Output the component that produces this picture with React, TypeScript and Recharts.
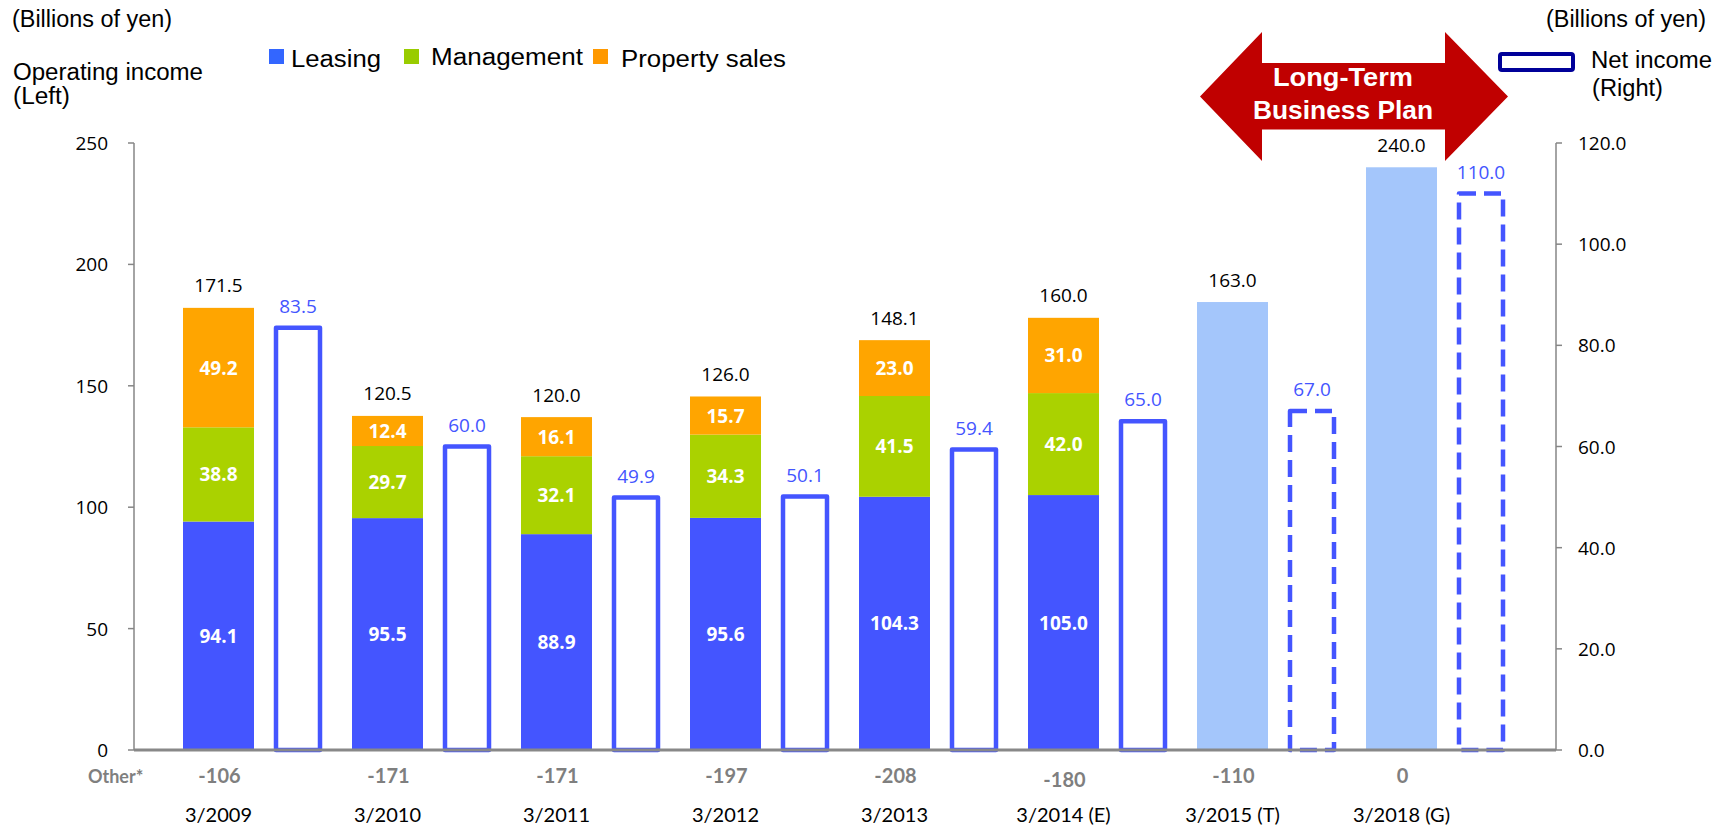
import { BarChart, Bar, XAxis, YAxis } from "recharts";

const categories = [
  "3/2009",
  "3/2010",
  "3/2011",
  "3/2012",
  "3/2013",
  "3/2014 (E)",
  "3/2015 (T)",
  "3/2018 (G)",
];
const leasing = [94.1, 95.5, 88.9, 95.6, 104.3, 105.0, null, null];
const management = [38.8, 29.7, 32.1, 34.3, 41.5, 42.0, null, null];
const propertySales = [49.2, 12.4, 16.1, 15.7, 23.0, 31.0, null, null];
// plan years only show one light bar for operating income
const planBar = [null, null, null, null, null, null, 184.5, 240.0];
const operatingIncome = ["171.5", "120.5", "120.0", "126.0", "148.1", "160.0", "163.0", "240.0"];
const netIncome = [83.5, 60.0, 49.9, 50.1, 59.4, 65.0, 67.0, 110.0];
const other = ["-106", "-171", "-171", "-197", "-208", "-180", "-110", "0"];
const leftTicks = [0, 50, 100, 150, 200, 250];
const rightTicks = [0, 20, 40, 60, 80, 100, 120];
const firstPlanIndex = 6;

const ARIAL = "'Liberation Sans', Arial, sans-serif";
const NUM = "'Open Sans', sans-serif";
const CAL = "Lato, sans-serif";

const BLUE = "#4455ff";
const GREEN = "#aad200";
const ORANGE = "#ffa500";
const PLAN = "#a4c6fb";
const AXIS = "#868686";

const data = categories.map((name, i) => ({
  name,
  leasing: leasing[i],
  management: management[i],
  propertySales: propertySales[i],
  plan: planBar[i],
  total: operatingIncome[i],
  net: netIncome[i],
  idx: i,
}));

function Txt({ x, y, w, size = 23, weight = "normal", fill = "#000", children }: any) {
  return (
    <text
      x={x}
      y={y}
      fontFamily={ARIAL}
      fontSize={size}
      fontWeight={weight}
      fill={fill}
      textLength={w}
      lengthAdjust="spacingAndGlyphs"
    >
      {children}
    </text>
  );
}

function stackShape(key: string, fill: string, showTotal: boolean) {
  return (props: any) => {
    const { x, y, width, height, payload } = props;
    const v = payload[key];
    if (v == null) return <g />;
    const cx = x + width / 2;
    return (
      <g>
        <rect x={x} y={y} width={width} height={height} fill={fill} />
        {key !== "plan" && (
          <text
            x={cx}
            y={y + height / 2 + 7}
            textAnchor="middle"
            fontFamily={NUM}
            fontWeight={700}
            fontSize={19}
            fill="#fff"
          >
            {v.toFixed(1)}
          </text>
        )}
        {showTotal && (
          <text x={cx} y={y - 15.5} textAnchor="middle" fontFamily={NUM} fontSize={19} fill="#000">
            {payload.total}
          </text>
        )}
      </g>
    );
  };
}

function NetShape(props: any) {
  const { x, y, width, height, payload } = props;
  const dashed = payload.idx >= firstPlanIndex;
  return (
    <g>
      <rect
        x={x}
        y={y}
        width={width}
        height={height}
        fill="#fff"
        stroke={BLUE}
        strokeWidth={4.5}
        strokeLinejoin="round"
        strokeDasharray={dashed ? "17 8" : undefined}
      />
      <text x={x + width / 2} y={y - 15} textAnchor="middle" fontFamily={NUM} fontSize={19} fill={BLUE}>
        {payload.net.toFixed(1)}
      </text>
    </g>
  );
}

function XTick({ x, y, payload }: any) {
  const i = categories.indexOf(payload.value);
  const cx = x - 33;
  return (
    <g>
      <text x={cx + 1} y={y + 33 + (i === 5 ? 4 : 0)} textAnchor="middle" fontFamily={CAL} fontWeight={700} fontSize={20} fill="#7f7f7f">
        {other[i]}
      </text>
      <text x={cx} y={y + 72} textAnchor="middle" fontFamily={CAL} fontSize={20} fill="#000">
        {payload.value}
      </text>
    </g>
  );
}

function LeftTick({ x, y, payload }: any) {
  return (
    <text x={x} y={y + 7} textAnchor="end" fontFamily={NUM} fontSize={19} fill="#000">
      {payload.value}
    </text>
  );
}

function RightTick({ x, y, payload }: any) {
  return (
    <text x={x} y={y + 7} textAnchor="start" fontFamily={NUM} fontSize={19} fill="#000">
      {payload.value.toFixed(1)}
    </text>
  );
}

export default function App() {
  return (
    <div style={{ position: "absolute", left: 0, top: 0, width: 1717, height: 826, background: "#fff" }}>
      <BarChart
        width={1717}
        height={826}
        data={data}
        margin={{ top: 143, right: 101, bottom: 6, left: 74 }}
        barGap={22}
      >
        <XAxis
          dataKey="name"
          xAxisId={0}
          height={70}
          padding={{ left: 33, right: 37 }}
          axisLine={{ stroke: "#888", strokeWidth: 3 }}
          tickLine={false}
          tickSize={0}
          tickMargin={0}
          interval={0}
          tick={<XTick />}
        />
        <YAxis
          yAxisId="left"
          orientation="left"
          width={60}
          domain={[0, 250]}
          ticks={leftTicks}
          interval={0}
          axisLine={{ stroke: AXIS, strokeWidth: 1.5 }}
          tickLine={{ stroke: AXIS, strokeWidth: 1.5 }}
          tickSize={6}
          tickMargin={20}
          tick={<LeftTick />}
        />
        <YAxis
          yAxisId="right"
          orientation="right"
          width={60}
          domain={[0, 120]}
          ticks={rightTicks}
          interval={0}
          axisLine={{ stroke: AXIS, strokeWidth: 1.5 }}
          tickLine={{ stroke: AXIS, strokeWidth: 1.5 }}
          tickSize={6}
          tickMargin={16}
          tick={<RightTick />}
        />
        <Bar dataKey="leasing" stackId="op" yAxisId="left" barSize={71} fill={BLUE} isAnimationActive={false} shape={stackShape("leasing", BLUE, false)} />
        <Bar dataKey="management" stackId="op" yAxisId="left" barSize={71} fill={GREEN} isAnimationActive={false} shape={stackShape("management", GREEN, false)} />
        <Bar dataKey="propertySales" stackId="op" yAxisId="left" barSize={71} fill={ORANGE} isAnimationActive={false} shape={stackShape("propertySales", ORANGE, true)} />
        <Bar dataKey="plan" stackId="op" yAxisId="left" barSize={71} fill={PLAN} isAnimationActive={false} shape={stackShape("plan", PLAN, true)} />
        <Bar dataKey="net" yAxisId="right" barSize={44} fill="#fff" isAnimationActive={false} shape={NetShape} />
      </BarChart>

      <svg width={1717} height={826} style={{ position: "absolute", left: 0, top: 0, pointerEvents: "none" }}>
        <Txt x={12} y={27} w={160}>(Billions of yen)</Txt>
        <Txt x={13} y={80} w={190}>Operating income</Txt>
        <Txt x={13} y={104} w={57}>(Left)</Txt>

        <rect x={269} y={49} width={15} height={15} fill="#3366ff" />
        <Txt x={291} y={66.5} w={90}>Leasing</Txt>
        <rect x={404} y={49} width={15} height={15} fill="#99cc00" />
        <Txt x={431} y={65} w={152}>Management</Txt>
        <rect x={593} y={49} width={15} height={15} fill="#ff9900" />
        <Txt x={621} y={67} w={165}>Property sales</Txt>

        <Txt x={1546} y={27} w={160}>(Billions of yen)</Txt>
        <rect x={1500} y={54} width={73} height={16} rx={2} fill="#fff" stroke="#000099" strokeWidth={4} />
        <Txt x={1591} y={68} w={121}>Net income</Txt>
        <Txt x={1592} y={96} w={71}>(Right)</Txt>

        <polygon
          points="1200,96.5 1262,32 1262,63 1445,63 1445,32 1508,96.5 1445,161 1445,129.5 1262,129.5 1262,161"
          fill="#c00000"
        />
        <Txt x={1273} y={86} w={140} size={25} weight="bold" fill="#fff">Long-Term</Txt>
        <Txt x={1253} y={119} w={180} size={25} weight="bold" fill="#fff">Business Plan</Txt>

        <text x={88} y={783} fontFamily={CAL} fontWeight={700} fontSize={18} fill="#7f7f7f">
          Other*
        </text>
      </svg>
    </div>
  );
}
